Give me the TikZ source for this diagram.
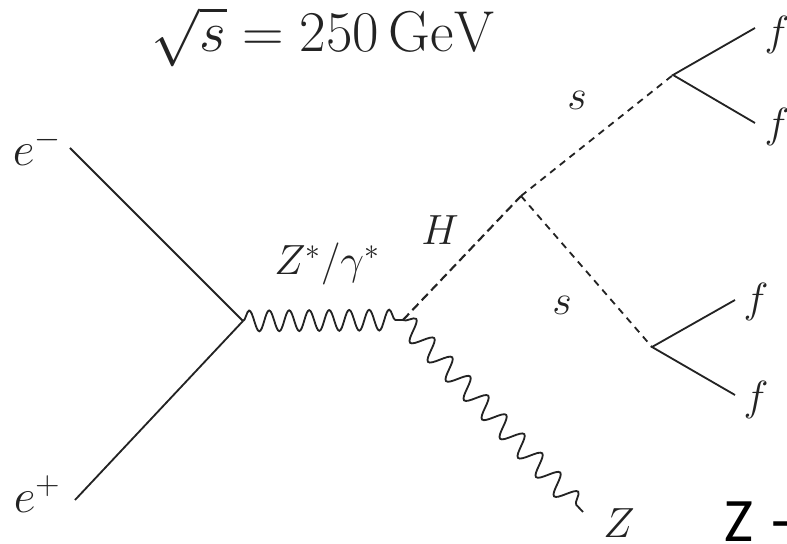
\RequirePackage{fix-cm}
\documentclass[tikz,border=0pt]{standalone}
\usepackage{fontspec}
\newfontfamily\slidefont{Carlito}
\usepackage{tikz}
\usetikzlibrary{decorations.pathmorphing}
\definecolor{ink}{RGB}{35, 35, 35}

\begin{document}
\begin{tikzpicture}[
    fermion/.style={ink, line width=1.3pt},
    scalar/.style={ink, line width=1.3pt, dash pattern=on 0.17cm off 0.14cm},
    higgs/.style={ink, line width=1.5pt, dash pattern=on 0.22cm off 0.12cm},
    boson/.style={ink, line width=1.3pt, decorate,
                  decoration={snake, amplitude=0.26cm, segment length=#1}},
    lbl/.style={ink, inner sep=0pt, font=\fontsize{30}{36}\selectfont},
    biglbl/.style={ink, inner sep=0pt, font=\fontsize{34}{40}\selectfont},
  ]
  \useasboundingbox (0, 0) rectangle (19.675, 13.6);

  % Vertices and free ends
  \coordinate (em) at (1.75, 9.9);
  \coordinate (ep) at (1.875, 1.1);
  \coordinate (vee) at (6.075, 5.575);
  \coordinate (vzh) at (10.075, 5.6);
  \coordinate (vh) at (13.025, 8.7);
  \coordinate (vsa) at (16.825, 11.725);
  \coordinate (vsb) at (16.3, 4.925);
  \coordinate (fa1) at (18.875, 12.9);
  \coordinate (fa2) at (18.875, 10.525);
  \coordinate (fb1) at (18.375, 6.1);
  \coordinate (fb2) at (18.375, 3.725);
  \coordinate (zend) at (14.575, 0.8);

  % Beam energy
  \node[ink, inner sep=0pt, anchor=base, font=\fontsize{41}{49}\selectfont]
    (energy) at (8.075, 12.3) {$\sqrt{s} = 250\,\mathrm{GeV}$};

  % Incoming leptons
  \draw[fermion] (em) -- (vee);
  \draw[fermion] (ep) -- (vee);
  \node[biglbl] (elec) at (0.925, 9.925) {$e^-$};
  \node[biglbl] (posi) at (0.925, 1.25) {$e^+$};

  % s-channel boson
  \draw[boson=0.5cm] (vee) -- (vzh);
  \node[lbl] (zgam) at (8.175, 7.0) {$Z^*/\gamma^*$};

  % Outgoing Z
  \draw[boson=0.658cm] (vzh) -- (zend);
  \node[lbl] (zlbl) at (15.475, 0.525) {$Z$};

  % Higgs and its scalars
  \draw[higgs] (vzh) -- (vh);
  \node[lbl] (hlbl) at (11.0, 7.85) {$H$};
  \draw[scalar] (vh) -- (vsa);
  \draw[scalar] (vh) -- (vsb);
  \node[lbl] (sa) at (14.425, 11.1) {$s$};
  \node[lbl] (sb) at (14.05, 5.975) {$s$};

  % Fermion pairs
  \draw[fermion] (fa1) -- (vsa) -- (fa2);
  \draw[fermion] (fb1) -- (vsb) -- (fb2);
  \node[lbl] (fa1l) at (19.425, 12.725) {$f$};
  \node[lbl] (fa2l) at (19.425, 10.425) {$f$};
  \node[lbl] (fb1l) at (18.9, 6.05) {$f$};
  \node[lbl] (fb2l) at (18.9, 3.6) {$f$};

  % Cut-off slide text
  \node[inner sep=0pt, anchor=base west, font=\slidefont\fontsize{44}{52}\selectfont]
    (ztxt) at (18.1, 0.07) {Z\hspace{0.3em}-};
\end{tikzpicture}
\end{document}
